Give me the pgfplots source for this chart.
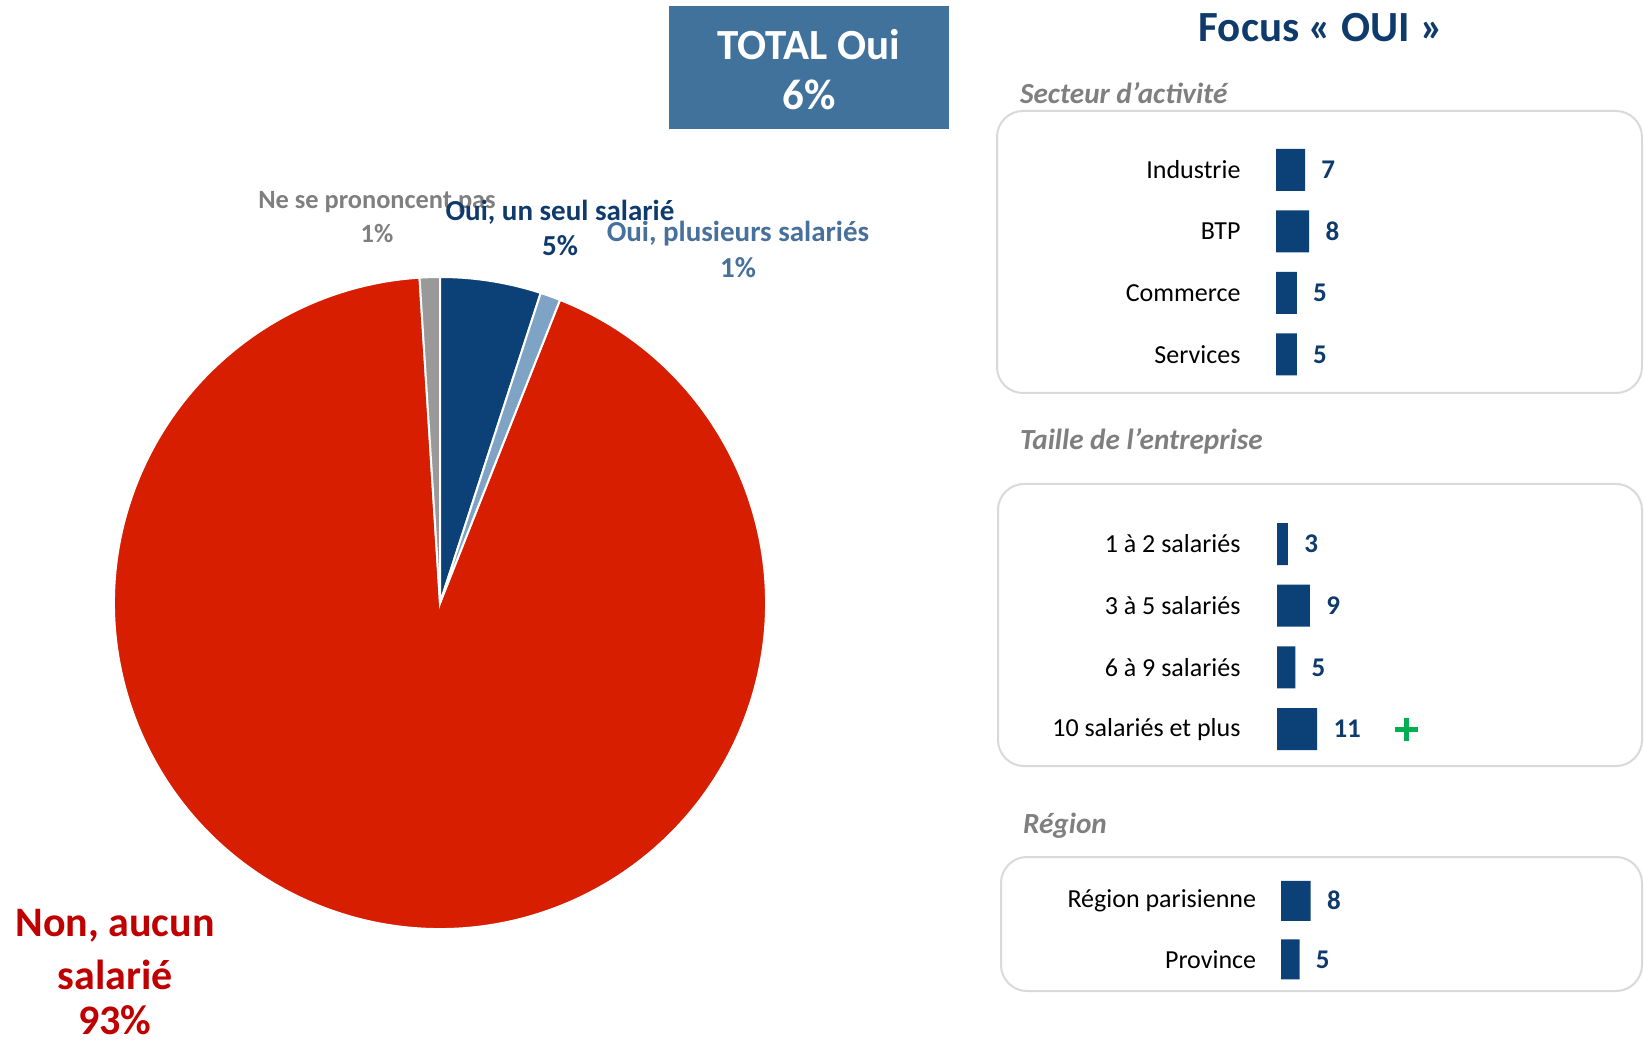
\documentclass[border=0pt]{standalone}
\usepackage{fontspec}
\setmainfont{Carlito}
\usepackage{pgfplots}
\usepackage{pgfplotstable}
\pgfplotsset{compat=1.18}

\definecolor{navy}{HTML}{0B4177}
\definecolor{navytxt}{HTML}{0E3A6C}
\definecolor{lightblue}{HTML}{7FA3C4}
\definecolor{pieRed}{HTML}{D81E00}
\definecolor{pieGray}{HTML}{999999}
\definecolor{totalblue}{HTML}{41729C}
\definecolor{plustxt}{HTML}{48709C}
\definecolor{graytxt}{HTML}{7F7F7F}
\definecolor{redtxt}{HTML}{C00000}
\definecolor{boxgray}{HTML}{D9D9D9}
\definecolor{plusgreen}{HTML}{00B050}

% pie: share of answers, in percent
\pgfplotstableread{
slice pct
un 5
plusieurs 1
non 93
nsp 1
}\piedata

\pgfplotstableread{
row v
0 7
1 8
2 5
3 5
}\secteur

\pgfplotstableread{
row v
0 3
1 9
2 5
3 11
}\taille

\pgfplotstableread{
row v
0 8
1 5
}\region

\pgfplotsset{
  panel/.style={
    xbar, scale only axis, xmin=0, xmax=20, y dir=reverse,
    axis line style={draw=none}, major tick style={draw=none},
    xtick=\empty, clip=false, enlargelimits=false,
    yticklabel style={font=\fontsize{13}{15}\selectfont, text=black, inner sep=0pt, anchor=east},
    nodes near coords, point meta=explicit symbolic,
    every node near coord/.append style={font=\fontsize{13.5}{16}\selectfont\bfseries,
      text=navytxt, inner sep=0pt, anchor=west, xshift=8pt},
  },
}

\begin{document}
\begin{tikzpicture}
\pgfplotstablegetelem{0}{pct}\of\piedata\let\pA\pgfplotsretval
\pgfplotstablegetelem{1}{pct}\of\piedata\let\pB\pgfplotsretval
\pgfplotstablegetelem{2}{pct}\of\piedata\let\pC\pgfplotsretval
\pgfplotstablegetelem{3}{pct}\of\piedata\let\pD\pgfplotsretval
\pgfmathsetmacro\aA{90}
\pgfmathsetmacro\aB{\aA-3.6*\pA}
\pgfmathsetmacro\aC{\aB-3.6*\pB}
\pgfmathsetmacro\aD{\aC-3.6*\pC}
\pgfmathsetmacro\aE{\aD-3.6*\pD}

\begin{scope}[x=0.5pt, y=-0.5pt]
\path (0,0) rectangle (1644,1042);
\fill[totalblue] (669,6) rectangle (949,129);
\node[text=white, font=\fontsize{21.5}{25}\selectfont\bfseries] at (809,45) {TOTAL Oui};
\node[text=white, font=\fontsize{21.5}{25}\selectfont\bfseries] at (809,95) {6\%};
\node[text=navytxt, font=\fontsize{21.5}{26}\selectfont\bfseries] at (1321,28) {Focus « OUI »};
\node[anchor=west, text=graytxt, font=\fontsize{14.6}{18}\selectfont\bfseries\itshape] at (1013,93) {Secteur d’activité};
\node[anchor=west, text=graytxt, font=\fontsize{14.6}{18}\selectfont\bfseries\itshape] at (1013,441) {Taille de l’entreprise};
\node[anchor=west, text=graytxt, font=\fontsize{14.6}{18}\selectfont\bfseries\itshape] at (1016,826) {Région};
\draw[boxgray, line width=1pt, rounded corners=13pt] (997,111) rectangle (1642,393);
\draw[boxgray, line width=1pt, rounded corners=13pt] (998,484) rectangle (1642,766);
\draw[boxgray, line width=1pt, rounded corners=13pt] (1001,857) rectangle (1642,991);
\draw[plusgreen, line width=2.5pt] (1395,729) -- (1418,729) (1406.5,717.5) -- (1406.5,740.5);

\node[text=graytxt, font=\fontsize{13.2}{15}\selectfont\bfseries] at (377,202) {Ne se prononcent pas};
\node[text=graytxt, font=\fontsize{13.2}{15}\selectfont\bfseries] at (377,234) {1\%};
\node[text=navytxt, font=\fontsize{14.5}{17}\selectfont\bfseries] at (560,212) {Oui, un seul salarié};
\node[text=navytxt, font=\fontsize{14.5}{17}\selectfont\bfseries] at (560,246) {5\%};
\node[text=plustxt, font=\fontsize{14.5}{17}\selectfont\bfseries] at (738,234) {Oui, plusieurs salariés};
\node[text=plustxt, font=\fontsize{14.5}{17}\selectfont\bfseries] at (738,268) {1\%};
\node[text=redtxt, font=\fontsize{21}{25}\selectfont\bfseries] at (115,926) {Non, aucun};
\node[text=redtxt, font=\fontsize{21}{25}\selectfont\bfseries] at (115,975) {salarié};
\node[text=redtxt, inner sep=0pt, font=\fontsize{21}{25}\selectfont\bfseries] at (115,1020) {93\%};
\end{scope}

% pie
\begin{axis}[at={(220pt,-301.5pt)}, anchor=center, scale only axis,
  width=326pt, height=326pt, xmin=-1, xmax=1, ymin=-1, ymax=1,
  hide axis, clip=false]
\fill[pieRed, draw=white, line width=1pt] (axis cs:0,0) -- (axis cs:{cos(\aC)},{sin(\aC)})
  arc[start angle=\aC, end angle=\aD, radius=163pt] -- cycle;
\fill[pieGray, draw=white, line width=1pt] (axis cs:0,0) -- (axis cs:{cos(\aD)},{sin(\aD)})
  arc[start angle=\aD, end angle=\aE, radius=163pt] -- cycle;
\fill[navy, draw=white, line width=1pt] (axis cs:0,0) -- (axis cs:{cos(\aA)},{sin(\aA)})
  arc[start angle=\aA, end angle=\aB, radius=163pt] -- cycle;
\fill[lightblue, draw=white, line width=1pt] (axis cs:0,0) -- (axis cs:{cos(\aB)},{sin(\aB)})
  arc[start angle=\aB, end angle=\aC, radius=163pt] -- cycle;
\end{axis}

% Secteur d'activite
\begin{axis}[panel, at={(638pt,-69.6pt)}, anchor=north west,
  width=41.5pt, height=123pt, ymin=-0.5, ymax=3.5, bar width=21pt,
  ytick={0,1,2,3}, yticklabels={Industrie,BTP,Commerce,Services},
  yticklabel style={xshift=-13.3pt}]
\addplot[fill=navy, draw=none] table[x=v, y=row, meta=v] {\secteur};
\end{axis}

% Taille de l'entreprise
\begin{axis}[panel, at={(638.5pt,-256.6pt)}, anchor=north west,
  width=36.5pt, height=123.4pt, ymin=-0.5, ymax=3.5, bar width=21pt,
  ytick={0,1,2,3}, yticklabels={1 à 2 salariés,3 à 5 salariés,6 à 9 salariés,10 salariés et plus},
  yticklabel style={xshift=-13.8pt}]
\addplot[fill=navy, draw=none] table[x=v, y=row, meta=v] {\taille};
\end{axis}

% Region
\begin{axis}[panel, at={(640.5pt,-435.7pt)}, anchor=north west,
  width=37pt, height=58.7pt, ymin=-0.5, ymax=1.5, bar width=20pt,
  ytick={0,1}, yticklabels={Région parisienne,Province},
  yticklabel style={xshift=-8pt}]
\addplot[fill=navy, draw=none] table[x=v, y=row, meta=v] {\region};
\end{axis}
\end{tikzpicture}
\end{document}
